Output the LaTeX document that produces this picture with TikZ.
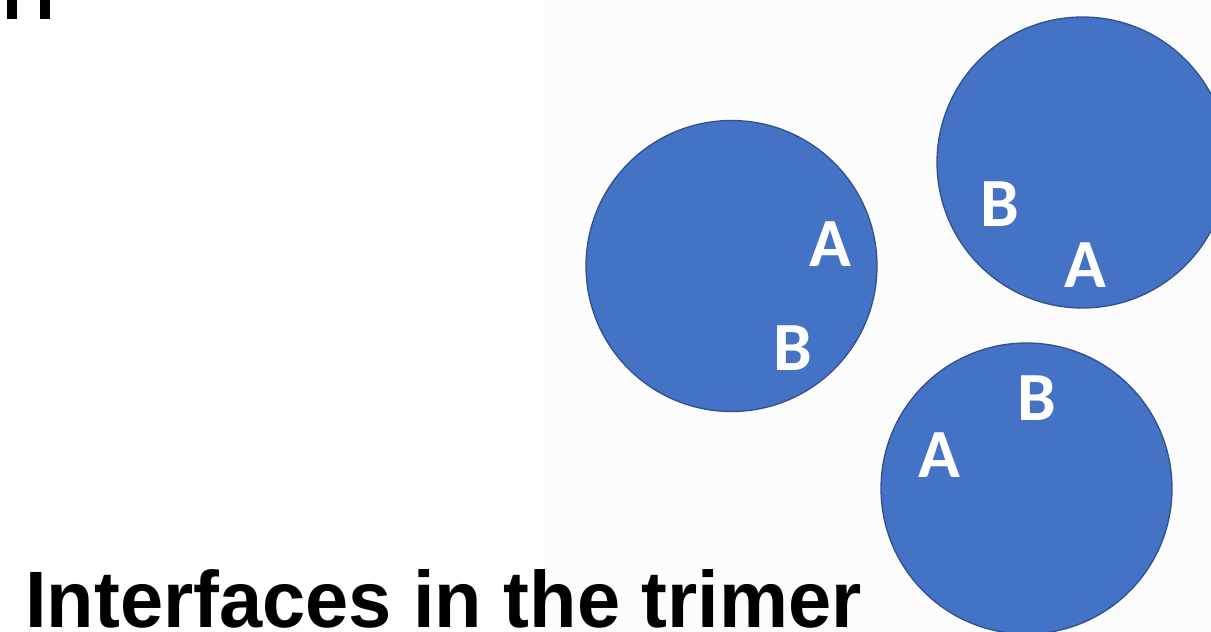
\documentclass[tikz,border=0pt]{standalone}
\usepackage{fontspec}
\setmainfont{Liberation Sans}
\newfontfamily\sitefont{Carlito}
\definecolor{subunit}{HTML}{4472C4}
\definecolor{subunitrim}{HTML}{2F528F}
\tikzset{
    subunit/.style={circle, draw=subunitrim, line width=1.3pt, fill=subunit, minimum size=291pt, inner sep=0pt},
    site/.style={text=white, font=\sitefont\bfseries\fontsize{69}{70}\selectfont, inner sep=0pt}
}
\begin{document}
\begin{tikzpicture}[x=1pt, y=-1pt]
    % Frame
    \useasboundingbox (0,0) rectangle (1211,632);
    \fill[white] (0,0) rectangle (1211,632);
    \fill[black!1] (545,0) rectangle (1211,632);
    \begin{scope}
    \clip (0,0) rectangle (1211,632);

    % Cut-off letter from above
    \fill[black] (7,0) rectangle (17,19);
    \fill[black] (40,0) rectangle (50,19);

    % Three subunits
    \node[subunit] (left) at (731.5,266) {};
    \node[subunit] (upper) at (1082.5,162.5) {};
    \node[subunit] (lower) at (1026.5,488.5) {};

    % Interface sites
    \node[site] (leftA) at (830,244) {A};
    \node[site] (leftB) at (793,348.5) {B};

    \node[site] (upperB) at (999.5,204.5) {B};
    \node[site] (upperA) at (1085.5,265.5) {A};

    \node[site] (lowerB) at (1036.5,398) {B};
    \node[site] (lowerA) at (939,455.5) {A};

    % Title
    \node[anchor=base west, inner sep=0pt, font=\bfseries\fontsize{80}{90}\selectfont] (title) at (25,627) {\scalebox{0.97}[1]{Interfaces in the trimer}};
    \end{scope}
\end{tikzpicture}
\end{document}
